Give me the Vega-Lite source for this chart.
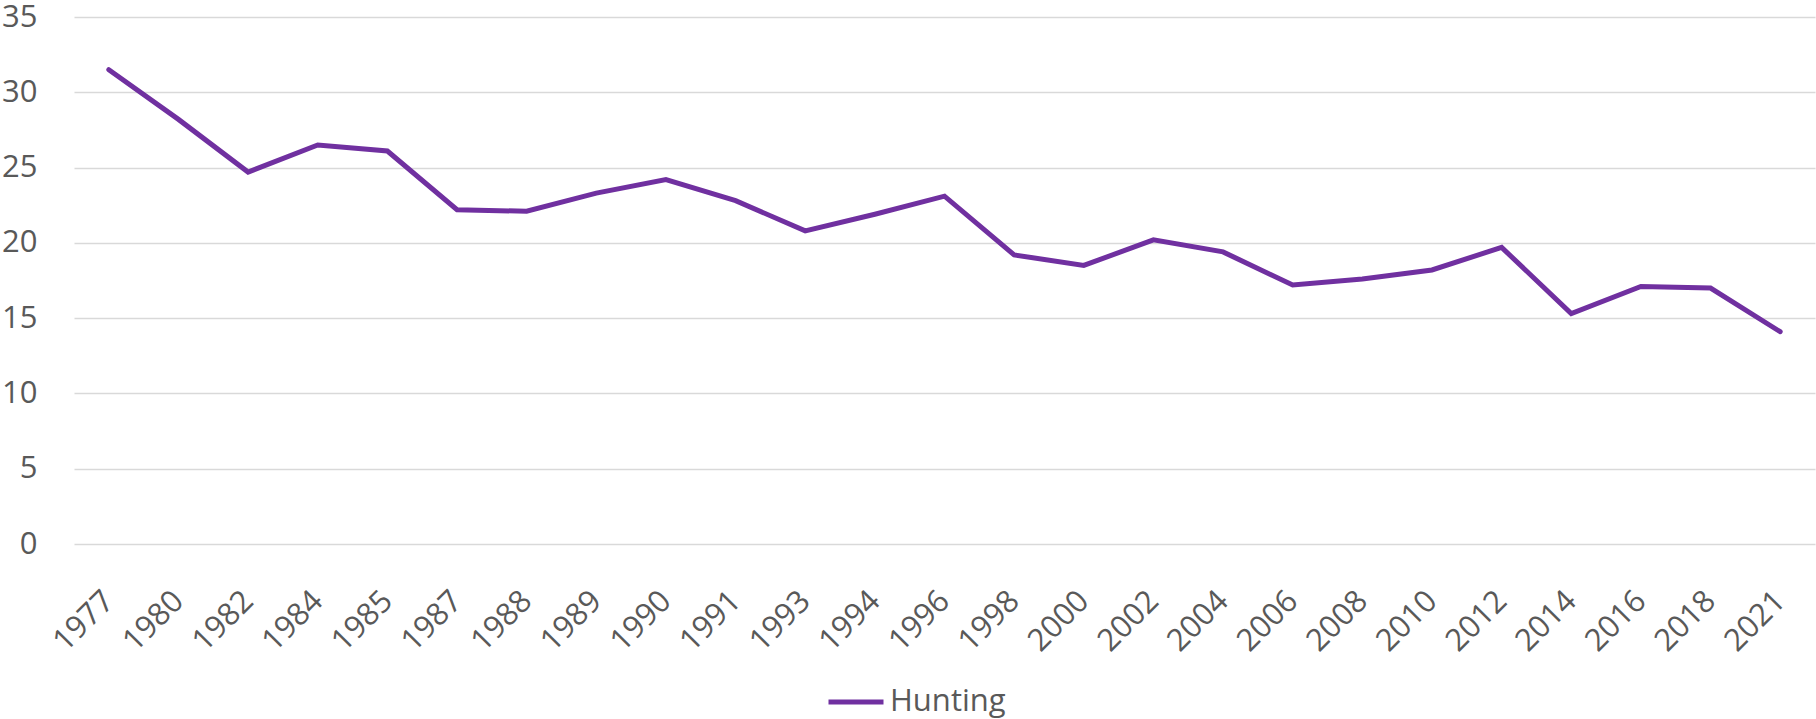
{
  "$schema": "https://vega.github.io/schema/vega-lite/v6.json",
  "width": 1741,
  "height": 527,
  "autosize": "none",
  "padding": {"left": 74, "top": 17, "right": 1, "bottom": 175},
  "background": "white",
  "config": {
    "view": {"stroke": null},
    "font": "Open Sans"
  },
  "data": {
    "values": [
      {"year": "1977", "value": 31.5, "series": "Hunting"},
      {"year": "1980", "value": 28.2, "series": "Hunting"},
      {"year": "1982", "value": 24.7, "series": "Hunting"},
      {"year": "1984", "value": 26.5, "series": "Hunting"},
      {"year": "1985", "value": 26.1, "series": "Hunting"},
      {"year": "1987", "value": 22.2, "series": "Hunting"},
      {"year": "1988", "value": 22.1, "series": "Hunting"},
      {"year": "1989", "value": 23.3, "series": "Hunting"},
      {"year": "1990", "value": 24.2, "series": "Hunting"},
      {"year": "1991", "value": 22.8, "series": "Hunting"},
      {"year": "1993", "value": 20.8, "series": "Hunting"},
      {"year": "1994", "value": 21.9, "series": "Hunting"},
      {"year": "1996", "value": 23.1, "series": "Hunting"},
      {"year": "1998", "value": 19.2, "series": "Hunting"},
      {"year": "2000", "value": 18.5, "series": "Hunting"},
      {"year": "2002", "value": 20.2, "series": "Hunting"},
      {"year": "2004", "value": 19.4, "series": "Hunting"},
      {"year": "2006", "value": 17.2, "series": "Hunting"},
      {"year": "2008", "value": 17.6, "series": "Hunting"},
      {"year": "2010", "value": 18.2, "series": "Hunting"},
      {"year": "2012", "value": 19.7, "series": "Hunting"},
      {"year": "2014", "value": 15.3, "series": "Hunting"},
      {"year": "2016", "value": 17.1, "series": "Hunting"},
      {"year": "2018", "value": 17.0, "series": "Hunting"},
      {"year": "2021", "value": 14.1, "series": "Hunting"}
    ]
  },
  "mark": {"type": "line", "strokeWidth": 5, "strokeCap": "round", "strokeJoin": "miter"},
  "encoding": {
    "x": {
      "field": "year",
      "type": "ordinal",
      "sort": null,
      "scale": {"type": "point", "padding": 0.5},
      "axis": {
        "title": null,
        "domain": false,
        "ticks": false,
        "grid": false,
        "labelAngle": -45,
        "labelAlign": "right",
        "labelBaseline": "middle",
        "labelPadding": 52,
        "labelFontSize": 31,
        "labelColor": "#595959",
        "labelFont": "Open Sans"
      }
    },
    "y": {
      "field": "value",
      "type": "quantitative",
      "scale": {"domain": [0, 35], "nice": false, "zero": true},
      "axis": {
        "title": null,
        "values": [0, 5, 10, 15, 20, 25, 30, 35],
        "domain": false,
        "ticks": false,
        "grid": true,
        "gridColor": "#d9d9d9",
        "gridWidth": 1.5,
        "labelPadding": 37,
        "labelFontSize": 31,
        "labelColor": "#595959",
        "labelFont": "Open Sans"
      }
    },
    "color": {
      "field": "series",
      "type": "nominal",
      "scale": {"range": ["#7030A0"]},
      "legend": {
        "title": null,
        "orient": "none",
        "legendX": 752,
        "legendY": 655,
        "symbolType": "stroke",
        "symbolSize": 3025,
        "symbolStrokeWidth": 5,
        "labelFontSize": 31,
        "labelColor": "#595959",
        "labelFont": "Open Sans",
        "labelOffset": 4
      }
    }
  }
}
